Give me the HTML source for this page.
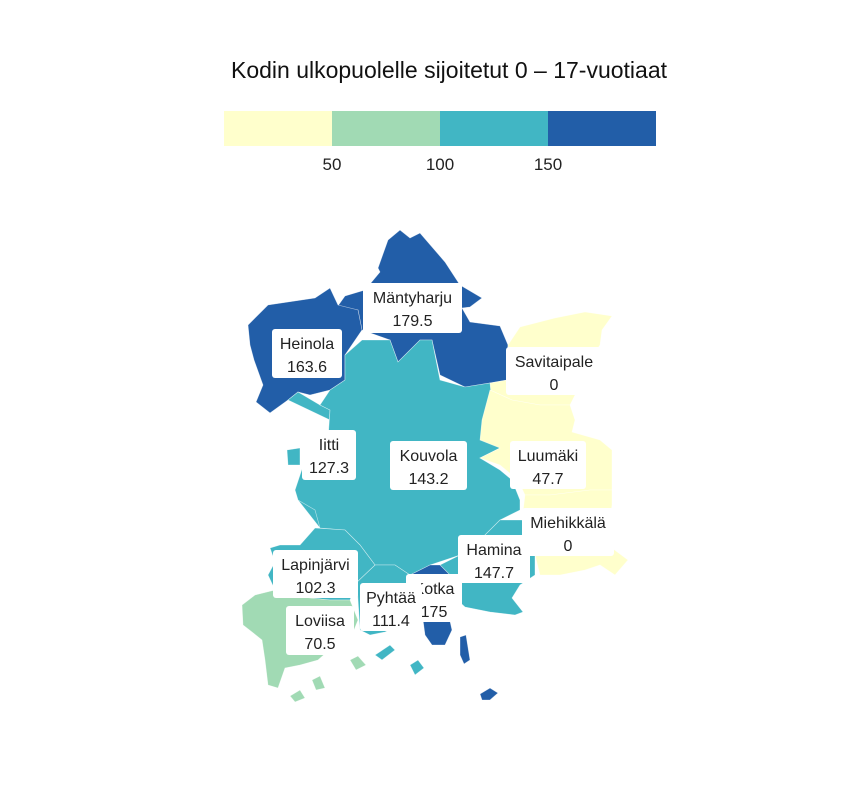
<!DOCTYPE html>
<html><head><meta charset="utf-8"><style>
body{margin:0;background:#fff;}
svg{display:block;font-family:"Liberation Sans","DejaVu Sans",sans-serif;}
</style></head><body>
<svg id="chart" width="864" height="792" viewBox="0 0 864 792">
<text x="449" y="78" text-anchor="middle" font-size="23" fill="#111">Kodin ulkopuolelle sijoitetut 0 – 17-vuotiaat</text>
<g id="legend"></g>
<g id="regions"></g>
<g id="labels"></g>
</svg>
<script>
const legendBreaks = [0, 50, 100, 150, 200];
const legendTicks = [50, 100, 150];
const palette = ["#ffffcc", "#a1dab4", "#41b6c4", "#225ea8"];
const names = ["Mäntyharju","Heinola","Savitaipale","Iitti","Kouvola","Luumäki","Miehikkälä","Hamina","Kotka","Pyhtää","Lapinjärvi","Loviisa"];
const values = [179.5, 163.6, 0, 127.3, 143.2, 47.7, 0, 147.7, 175, 111.4, 102.3, 70.5];

const shapes = [
 ["M388,240 L400,230 L410,238 L420,233 L445,262 L460,285 L482,298 L470,307 L462,308 L470,322 L500,326 L508,345 L507,380 L490,383 L465,387 L440,375 L432,340 L420,340 L398,362 L390,340 L362,330 L358,310 L335,310 L345,296 L365,290 L380,272 L378,268 Z"],
 ["M248,325 L268,305 L315,298 L330,288 L338,305 L358,310 L362,330 L345,355 L345,380 L330,390 L310,395 L298,392 L288,400 L270,413 L256,402 L263,385 L254,360 L250,345 Z"],
 ["M555,318 L585,312 L612,316 L602,330 L600,345 L590,360 L575,395 L570,405 L540,405 L512,400 L490,390 L490,383 L507,380 L508,345 L520,327 Z"],
 ["M288,400 L298,392 L320,405 L330,410 L328,440 L305,460 L298,500 L320,528 L345,530 L342,505 L362,492 L368,470 L345,440 L330,420 Z","M287,450 L300,448 L300,465 L288,465 Z"],
 ["M330,390 L345,380 L345,355 L362,340 L390,340 L398,362 L420,340 L432,340 L440,380 L465,387 L490,383 L492,405 L485,420 L488,440 L500,448 L480,458 L500,470 L512,480 L520,500 L520,510 L500,520 L480,540 L460,555 L430,565 L410,575 L395,565 L375,565 L360,545 L345,530 L320,528 L315,510 L298,500 L295,490 L305,460 L328,440 L330,410 L320,405 Z"],
 ["M490,390 L512,400 L540,405 L570,405 L575,420 L572,432 L600,440 L612,450 L612,480 L612,490 L590,490 L550,495 L525,495 L518,480 L500,465 L480,458 L500,448 L480,440 L482,420 Z"],
 ["M525,495 L550,495 L590,490 L612,490 L612,505 L610,520 L598,540 L612,548 L628,560 L615,575 L600,565 L585,570 L560,575 L540,575 L535,555 L530,540 L522,520 Z"],
 ["M460,555 L480,540 L500,520 L522,520 L530,540 L535,555 L535,575 L520,585 L512,598 L523,612 L515,615 L490,612 L465,607 L455,598 L455,580 L440,565 Z"],
 ["M410,575 L430,565 L440,565 L455,580 L455,598 L448,612 L452,630 L445,645 L432,645 L425,635 L423,620 L412,605 Z","M460,637 L466,635 L470,660 L464,664 L460,655 Z","M480,694 L490,688 L498,693 L490,700 L482,700 Z"],
 ["M375,565 L395,565 L410,575 L412,605 L423,620 L418,628 L400,625 L385,632 L370,635 L360,630 L358,600 L357,582 Z","M375,655 L390,645 L395,650 L382,660 Z","M410,665 L418,660 L424,668 L415,675 Z"],
 ["M270,548 L280,545 L300,545 L315,528 L345,530 L360,545 L375,565 L357,582 L350,600 L330,600 L310,598 L290,595 L275,590 L268,575 L275,562 Z"],
 ["M242,605 L255,595 L275,590 L290,595 L310,598 L330,600 L350,600 L358,620 L350,640 L335,645 L318,660 L300,665 L285,668 L278,688 L268,685 L265,660 L262,640 L252,632 L243,625 Z","M290,696 L300,690 L305,698 L295,702 Z","M312,680 L320,676 L325,688 L316,690 Z","M350,660 L358,656 L366,665 L356,670 Z"]
];
const labelBoxes = [[363,283,99,50],[272,329,70,49],[506,347,96,48],[302,430,54,50],[390,441,77,49],[510,441,76,48],[522,508,92,48],[458,535,72,48],[406,574,56,48],[360,583,62,48],[273,550,85,48],[286,606,68,49]];
const labelOrder = [0,1,2,3,4,5,6,7,8,9,10,11];

function colorFor(v){
  for(let i=0;i<palette.length;i++){ if(v < legendBreaks[i+1]) return palette[i]; }
  return palette[palette.length-1];
}
const NS="http://www.w3.org/2000/svg";
const lx0=224, lx1=656, ly=111, lh=35;
function xLegend(v){ return lx0 + (v-legendBreaks[0])/(legendBreaks[legendBreaks.length-1]-legendBreaks[0])*(lx1-lx0); }
const lg=document.getElementById('legend');
for(let i=0;i<palette.length;i++){
  const r=document.createElementNS(NS,'rect');
  r.setAttribute('x',xLegend(legendBreaks[i])); r.setAttribute('y',ly);
  r.setAttribute('width',xLegend(legendBreaks[i+1])-xLegend(legendBreaks[i])); r.setAttribute('height',lh);
  r.setAttribute('fill',palette[i]);
  
  
  lg.appendChild(r);
}
legendTicks.forEach(t=>{
  const tx=document.createElementNS(NS,'text');
  tx.setAttribute('x',xLegend(t)); tx.setAttribute('y',170); tx.setAttribute('text-anchor','middle');
  tx.setAttribute('font-size','17'); tx.setAttribute('fill','#222'); tx.textContent=t;
  
  
  lg.appendChild(tx);
});
const rg=document.getElementById('regions');
shapes.forEach((paths,i)=>{
  paths.forEach(d=>{
    const p=document.createElementNS(NS,'path');
    p.setAttribute('d',d); p.setAttribute('fill',colorFor(values[i]));
    p.setAttribute('stroke','#ffffff'); p.setAttribute('stroke-width','0.6'); p.setAttribute('stroke-opacity','0.6');
    
    
    rg.appendChild(p);
  });
});
const lb=document.getElementById('labels');
labelOrder.forEach(i=>{
  const b=labelBoxes[i];
  const g=document.createElementNS(NS,'g');
  
  
  const r=document.createElementNS(NS,'rect');
  r.setAttribute('x',b[0]); r.setAttribute('y',b[1]); r.setAttribute('width',b[2]); r.setAttribute('height',b[3]);
  r.setAttribute('rx',3); r.setAttribute('fill','#fff');
  g.appendChild(r);
  const cx=b[0]+b[2]/2;
  const t1=document.createElementNS(NS,'text');
  t1.setAttribute('x',cx); t1.setAttribute('y',b[1]+20); t1.setAttribute('text-anchor','middle');
  t1.setAttribute('font-size','16'); t1.setAttribute('fill','#222'); t1.textContent=names[i];
  g.appendChild(t1);
  const t2=document.createElementNS(NS,'text');
  t2.setAttribute('x',cx); t2.setAttribute('y',b[1]+43); t2.setAttribute('text-anchor','middle');
  t2.setAttribute('font-size','16'); t2.setAttribute('fill','#222'); t2.textContent=values[i];
  g.appendChild(t2);
  lb.appendChild(g);
});
</script>
</body></html>
